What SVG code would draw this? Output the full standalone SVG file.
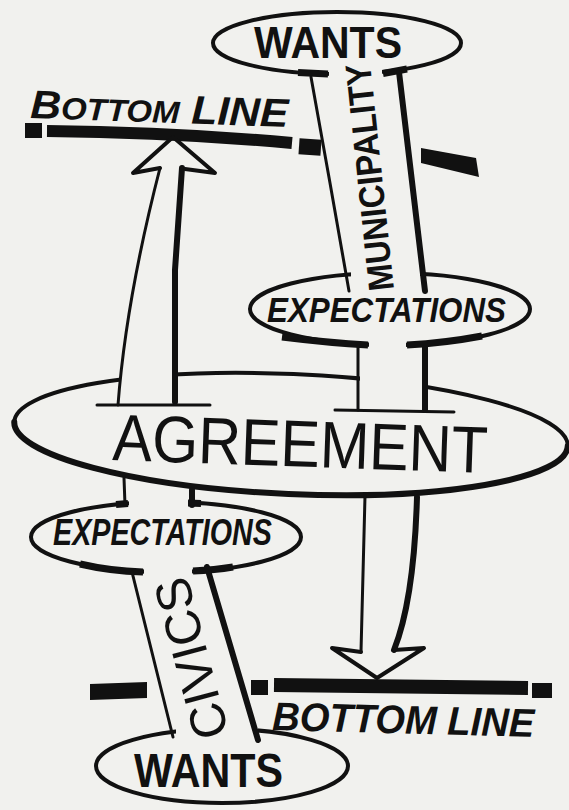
<svg xmlns="http://www.w3.org/2000/svg" width="569" height="810" viewBox="0 0 569 810">
<style>
.bg{fill:#f1f1ee}
.ln{stroke:#111;fill:none;stroke-linecap:round;stroke-linejoin:round}
.thin{stroke-width:3}
.thick{stroke-width:6}
.cap{stroke:#111;fill:none;stroke-width:7;stroke-linecap:butt}
.el{fill:#f1f1ee;stroke:#111;stroke-width:4}
.gap{fill:#f1f1ee;stroke:none}
.blk{fill:#111;stroke:none}
.t{font-family:"Liberation Sans",Arial,sans-serif;fill:#111}
.b{font-weight:bold}
.i{font-style:italic}
</style>
<rect class="bg" x="0" y="0" width="569" height="810"/>

<g id="bottom-line-top">
  <rect class="blk" x="25" y="123" width="17" height="15"/>
  <path class="ln" d="M47,131 Q170,132 292,143" stroke-width="12" style="stroke-linecap:butt"/>
  <rect class="blk" x="299" y="139" width="22" height="16" transform="rotate(4 310 147)"/>
  <polygon class="blk" points="421,148 476,158 479,177 421,163"/>
  <text class="t b i" transform="rotate(2 30 118)" x="30" y="118" font-size="40" textLength="258" lengthAdjust="spacingAndGlyphs">B<tspan font-size="31">OTTOM</tspan> LINE</text>
</g>

<g id="bottom-line-bottom">
  <polygon class="blk" points="90,684 147,682 147,698 90,700"/>
  <rect class="blk" x="251" y="680" width="17" height="15"/>
  <path class="ln" d="M274,685 L528,688" stroke-width="14" style="stroke-linecap:butt"/>
  <rect class="blk" x="532" y="683" width="20" height="15"/>
  <text class="t b i" transform="rotate(1.5 272 730)" x="272" y="730" font-size="40" textLength="262" lengthAdjust="spacingAndGlyphs">BOTTOM LINE</text>
</g>

<g id="wants-municipality">
  <ellipse class="el" cx="337" cy="43" rx="124" ry="31"/>
  <path class="cap" d="M298,72.5 L328,74 M383,73.5 L407,69"/>
  <text class="t b" x="254" y="58" font-size="45" textLength="148" lengthAdjust="spacingAndGlyphs">WANTS</text>
</g>

<g id="expectations-municipality">
  <ellipse class="el" cx="390" cy="309" rx="140" ry="36"/>
  <path class="cap" d="M282,337 Q330,343 368,345 M407,345 Q445,343 482,336"/>
  <text class="t b i" x="267" y="322" font-size="35" textLength="239" lengthAdjust="spacingAndGlyphs">EXPECTATIONS</text>
</g>

<g id="agreement">
  <g transform="translate(291,434) rotate(2.5)">
    <ellipse class="el" cx="0" cy="0" rx="277" ry="60" stroke-width="3.5"/>
    <path class="ln" d="M-277,0 A277,60 0 0 0 277,0" stroke-width="6"/>
  </g>
  <text class="t" transform="rotate(2 112 460)" x="112" y="460" font-size="66" textLength="375" lengthAdjust="spacingAndGlyphs">AGREEMENT</text>
</g>

<g id="expectations-civics">
  <ellipse class="el" cx="166" cy="537" rx="135" ry="35"/>
  <path class="cap" d="M80,564 Q110,571 143,572 M193,571 Q215,570 233,567 M116,504.5 L128,503.5 M188,503 L201,503.5"/>
  <text class="t b i" x="53" y="545" font-size="36" textLength="219" lengthAdjust="spacingAndGlyphs">EXPECTATIONS</text>
</g>

<g id="wants-civics">
  <ellipse class="el" cx="222" cy="766" rx="126" ry="37"/>
  <text class="t b" x="134" y="787" font-size="48" textLength="149" lengthAdjust="spacingAndGlyphs">WANTS</text>
</g>

<g id="connectors">
  <rect class="gap" x="329" y="66" width="53" height="14"/>
  <rect class="gap" x="351" y="266" width="69" height="16"/>
  <rect class="gap" x="369" y="336" width="37" height="16"/>
  <rect class="gap" x="121" y="360" width="52" height="32"/>
  <rect class="gap" x="360" y="364" width="63" height="32"/>
  <rect class="gap" x="129" y="496" width="59" height="14"/>
  <rect class="gap" x="144" y="563" width="48" height="16"/>
  <rect class="gap" x="176" y="722" width="82" height="16"/>

  <path class="ln thin" d="M311,77 L330,183 L349,291"/>
  <path class="ln thick" d="M399,72 L425,291"/>
  <path class="ln thin" d="M358,346 L358,410"/>
  <path class="ln thick" d="M425,344 L425,410"/>
  <path class="ln thin" d="M335,410 L454,412"/>

  <path class="ln thin" d="M365,496 L361,652"/>
  <path class="ln thick" d="M417,497 Q414,600 394,650"/>
  <path class="ln" stroke-width="4" d="M361,652 L332,648 L377,678 L424,648 L394,650"/>

  <path class="ln thin" d="M118,405 Q126,300 160,168"/>
  <path class="ln thick" d="M175,402 L175,270 L182,168"/>
  <path class="ln thin" d="M97,405 L210,405"/>
  <path class="ln" stroke-width="4" d="M160,168 L133,173 L173,137 L215,173 L185,169"/>

  <path class="ln thin" d="M124,478 L125,505"/>
  <path class="ln thick" d="M192,490 L192,505"/>
  <path class="ln thin" d="M132,572 L173,737"/>
  <path class="ln thick" d="M207,567 L258,740"/>

  <text class="t b" transform="translate(382,176) rotate(-96)" x="0" y="0" text-anchor="middle" font-size="36" textLength="228" lengthAdjust="spacingAndGlyphs">MUNICIPALITY</text>
  <text class="t" transform="translate(208,654) rotate(-105)" x="0" y="0" text-anchor="middle" font-size="50" textLength="165" lengthAdjust="spacingAndGlyphs">CIVICS</text>
</g>
</svg>
